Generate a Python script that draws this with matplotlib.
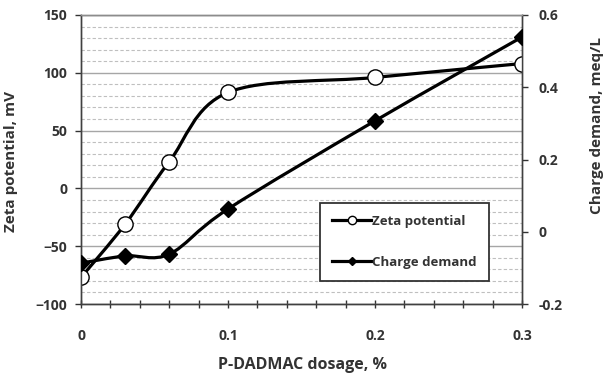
import numpy as np
import matplotlib.pyplot as plt
from matplotlib.path import Path
from matplotlib.patches import PathPatch
from matplotlib.lines import Line2D

# data
dosage = [0, 0.03, 0.06, 0.1, 0.2, 0.3]
zeta = [-77, -31, 23, 83, 96, 108]
charge = [-0.087, -0.067, -0.062, 0.063, 0.307, 0.539]

plt.rcParams['font.family'] = ['Open Sans', 'DejaVu Sans']
plt.rcParams['font.weight'] = 'bold'
txt = '#333333'


def smooth_path(x, y):
    # excel-like smoothed line (catmull-rom as cubic bezier)
    p = np.column_stack([x, y]).astype(float)
    n = len(p)
    verts = [p[0]]
    codes = [Path.MOVETO]
    for i in range(n - 1):
        p0 = p[i - 1] if i > 0 else p[i]
        p3 = p[i + 2] if i + 2 < n else p[i + 1]
        c1 = p[i] + (p[i + 1] - p0) / 6
        c2 = p[i + 1] - (p3 - p[i]) / 6
        verts += [c1, c2, p[i + 1]]
        codes += [Path.CURVE4] * 3
    return Path(verts, codes)


fig = plt.figure(figsize=(6.07, 3.77), dpi=100)
ax = fig.add_axes([81 / 607, 1 - 304 / 377, 441 / 607, 289 / 377])
ax2 = ax.twinx()

ax.set_xlim(0, 0.3)
ax.set_ylim(-100, 150)
ax2.set_ylim(-0.2, 0.6)

ax.set_yticks(np.arange(-100, 151, 50))
ax.set_yticks(np.arange(-100, 151, 10), minor=True)
ax.grid(which='major', axis='y', color='#a6a6a6', lw=1, ls='-')
ax.grid(which='minor', axis='y', color='#bfbfbf', lw=0.8, ls=(0, (3, 2)))
ax.set_axisbelow(True)
ax.tick_params(axis='y', which='minor', length=0)
ax.set_xticks([0, 0.1, 0.2, 0.3])
ax.set_xticklabels(['0', '0.1', '0.2', '0.3'])
ax.set_xticks(np.arange(0, 0.301, 0.02), minor=True)
ax.tick_params(axis='x', which='both', direction='inout', length=6, width=1,
               pad=15, labelsize=10, colors=txt)
ax.tick_params(axis='y', which='major', direction='out', length=4, width=1,
               pad=6, labelsize=10, colors=txt)
ax2.set_yticks([-0.2, 0, 0.2, 0.4, 0.6])
ax2.set_yticklabels(['-0.2', '0', '0.2', '0.4', '0.6'])
ax2.tick_params(axis='y', direction='out', length=4, width=1, pad=8,
                labelsize=10, colors=txt)
for a in (ax, ax2):
    for s in a.spines.values():
        s.set_color('#404040')
        s.set_linewidth(1)
    a.spines['top'].set_color('#8c8c8c')

ax.add_patch(PathPatch(smooth_path(dosage, zeta), fill=False, ec='black', lw=2.3,
                       transform=ax.transData, zorder=3))
ax.plot(dosage, zeta, ls='none', marker='o', ms=11, mfc='white', mec='black',
        mew=1, zorder=4)

ax2.add_patch(PathPatch(smooth_path(dosage, charge), fill=False, ec='black', lw=2.3,
                        transform=ax2.transData, zorder=3))
ax2.plot(dosage, charge, ls='none', marker='D', ms=8.5, mfc='black', mec='black',
         zorder=4)

handles = [Line2D([], [], color='black', lw=2.3, marker='o', ms=6, mfc='white', mec='black'),
           Line2D([], [], color='black', lw=2.3, marker='D', ms=4.5, mfc='black', mec='black')]
leg = ax2.legend(handles, ['Zeta potential', 'Charge demand'],
                 loc='upper left', bbox_to_anchor=(0.542, 0.349),
                 fancybox=False, framealpha=1, edgecolor='#333333',
                 fontsize=9.5, handlelength=3.0, handletextpad=0.05, labelspacing=2.1,
                 borderpad=0.9, borderaxespad=0, labelcolor=txt)
leg.get_frame().set_linewidth(1.3)

fig.text(11 / 607, 1 - 161 / 377, 'Zeta potential, mV', rotation=90,
         ha='center', va='center', fontsize=11, color=txt)
fig.text(597 / 607, 1 - 125 / 377, 'Charge demand, meq/L', rotation=90,
         ha='center', va='center', fontsize=11, color=txt)
fig.text(302 / 607, 1 - 365 / 377, 'P-DADMAC dosage, %', ha='center', va='center',
         fontsize=11.5, color=txt)

fig.savefig('out.png', dpi=100)
